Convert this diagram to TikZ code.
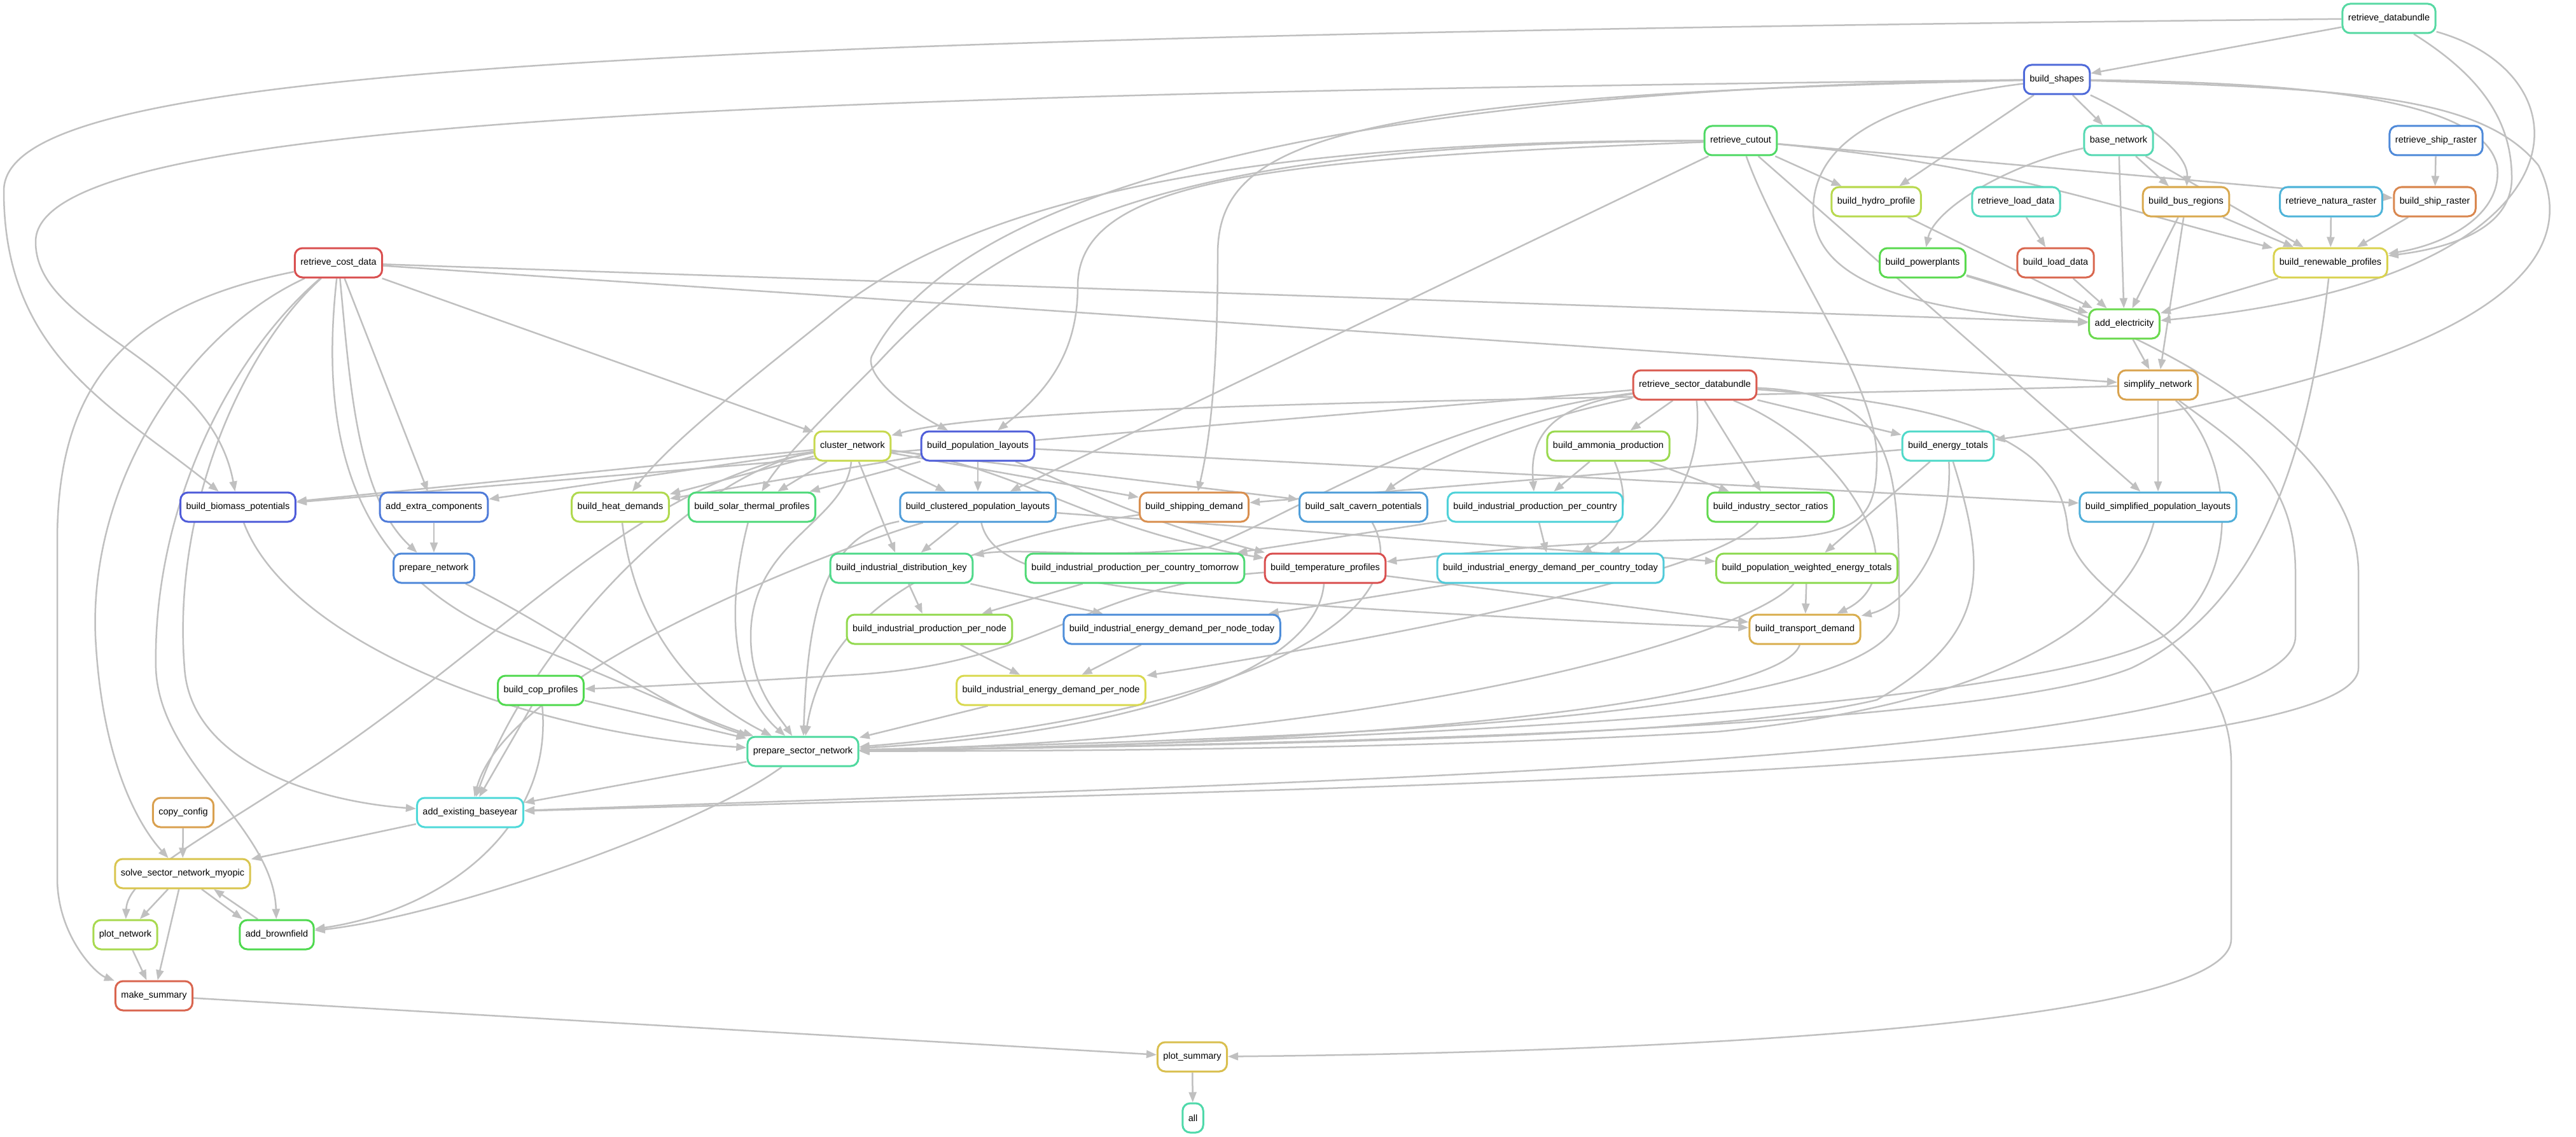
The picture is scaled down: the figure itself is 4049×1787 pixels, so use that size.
\documentclass[tikz,border=0pt]{standalone}
\usepackage{fontspec}
\setmainfont{Liberation Sans}
\usetikzlibrary{arrows.meta}
\pgfdeclarelayer{bg}
\pgfsetlayers{bg,main}
\definecolor{edgegray}{HTML}{C0C0C0}
\tikzset{
 nbox/.style={rectangle, rounded corners=12pt, line width=3pt, fill=white, minimum height=46pt, inner xsep=9pt, inner ysep=4pt, font=\fontsize{14.5}{17}\selectfont, text=black},
 edge/.style={draw=edgegray, line width=2.5pt, -{Triangle[length=16pt,width=12pt]}},
}
\newcommand{\mknode}[4]{\definecolor{col#1}{HTML}{#4}\node[nbox, draw=col#1] (#1) at (#2) {#3};}
\newcommand{\sedge}[2]{\draw[edge] (#1) -- (#2);}
\begin{document}
\begin{tikzpicture}[x=1pt,y=-1pt]
\useasboundingbox (0,0) rectangle (4049,1787);
\mknode{rdb}{3755,29}{retrieve\_databundle}{57D9A3}
\mknode{bs}{3233,125}{build\_shapes}{4F6AD9}
\mknode{rco}{2736,221}{retrieve\_cutout}{4FD965}
\mknode{bn}{3330,221}{base\_network}{57D9B3}
\mknode{rsr}{3829,221}{retrieve\_ship\_raster}{4F8AD9}
\mknode{bhp}{2949,317}{build\_hydro\_profile}{B8D94F}
\mknode{rld}{3169,317}{retrieve\_load\_data}{57D9C0}
\mknode{bbr}{3436,317}{build\_bus\_regions}{D9A94F}
\mknode{rnr}{3664,317}{retrieve\_natura\_raster}{4FB4D9}
\mknode{bsr}{3827,317}{build\_ship\_raster}{D9874F}
\mknode{rcd}{532,413}{retrieve\_cost\_data}{D94F4F}
\mknode{bpp}{3022,413}{build\_powerplants}{5AD94F}
\mknode{bld}{3231,413}{build\_load\_data}{D9674F}
\mknode{brp}{3663,413}{build\_renewable\_profiles}{D9D24F}
\mknode{ae}{3339,509}{add\_electricity}{6BD94F}
\mknode{rsd}{2664,605}{retrieve\_sector\_databundle}{D95A4F}
\mknode{sn}{3392,605}{simplify\_network}{D9A34F}
\mknode{cn}{1340,701}{cluster\_network}{C7D94F}
\mknode{bpl}{1537,701}{build\_population\_layouts}{4F5ED9}
\mknode{bap}{2528,701}{build\_ammonia\_production}{9AD94F}
\mknode{bet}{3062,701}{build\_energy\_totals}{4FD9C9}
\mknode{bio}{374,797}{build\_biomass\_potentials}{4F5CD9}
\mknode{aec}{682,797}{add\_extra\_components}{4F7BD9}
\mknode{bhd}{975,797}{build\_heat\_demands}{B0D94F}
\mknode{bstp}{1182,797}{build\_solar\_thermal\_profiles}{4FD97A}
\mknode{bcpl}{1537,797}{build\_clustered\_population\_layouts}{4F9CD9}
\mknode{bsd}{1877,797}{build\_shipping\_demand}{D98F4F}
\mknode{bscp}{2143,797}{build\_salt\_cavern\_potentials}{4F9ED9}
\mknode{bipc}{2413,797}{build\_industrial\_production\_per\_country}{4FD2D9}
\mknode{bisr}{2783,797}{build\_industry\_sector\_ratios}{62D94F}
\mknode{bspl}{3392,797}{build\_simplified\_population\_layouts}{4FAED9}
\mknode{pn}{682,893}{prepare\_network}{4F88D9}
\mknode{bidk}{1417,893}{build\_industrial\_distribution\_key}{4FD98A}
\mknode{bipct}{1784,893}{build\_industrial\_production\_per\_country\_tomorrow}{4FD975}
\mknode{btp}{2083,893}{build\_temperature\_profiles}{D94F4F}
\mknode{biedc}{2437,893}{build\_industrial\_energy\_demand\_per\_country\_today}{4FCAD9}
\mknode{bpwe}{2840,893}{build\_population\_weighted\_energy\_totals}{8CD94F}
\mknode{bipn}{1461,989}{build\_industrial\_production\_per\_node}{93D94F}
\mknode{biednt}{1842,989}{build\_industrial\_energy\_demand\_per\_node\_today}{4F8ED9}
\mknode{btd}{2837,989}{build\_transport\_demand}{D9AE4F}
\mknode{bcop}{850,1085}{build\_cop\_profiles}{50D94F}
\mknode{bied}{1652,1085}{build\_industrial\_energy\_demand\_per\_node}{D9D94F}
\mknode{psn}{1262,1181}{prepare\_sector\_network}{4FD99F}
\mknode{cc}{288,1277}{copy\_config}{D9A04F}
\mknode{aeb}{739,1277}{add\_existing\_baseyear}{4FD9D9}
\mknode{solve}{287,1373}{solve\_sector\_network\_myopic}{D9C54F}
\mknode{pnet}{197,1469}{plot\_network}{A8D94F}
\mknode{abf}{435,1469}{add\_brownfield}{4FD94F}
\mknode{ms}{242,1565}{make\_summary}{D9654F}
\mknode{ps}{1874,1661}{plot\_summary}{D9BF4F}
\mknode{all}{1875,1757}{all}{4FD9AA}
\begin{pgfonlayer}{bg}
\fill[white] (0,0) rectangle (4049,1787);
% retrieve_databundle
\sedge{rdb}{bs}
\draw[edge] (rdb) .. controls (800,60) and (6,120) .. (6,300) .. controls (6,560) and (180,640) .. (bio);
\draw[edge] (rdb) .. controls (3900,120) and (3948,190) .. (3948,280) .. controls (3948,360) and (3850,390) .. (brp);
\draw[edge] (rdb) .. controls (4080,120) and (4080,440) .. (ae);
% build_shapes
\sedge{bs}{bn}
\sedge{bs}{bhp}
\draw[edge] (bs) .. controls (3330,170) and (3440,230) .. (bbr);
\draw[edge] (bs) .. controls (3600,130) and (3900,150) .. (3925,260) .. controls (3935,340) and (3840,385) .. (brp);
\draw[edge] (bs) .. controls (2950,160) and (2850,230) .. (2850,330) .. controls (2850,440) and (3000,490) .. (ae);
\draw[edge] (bs) .. controls (3700,140) and (3900,150) .. (3990,260) .. controls (4060,400) and (3950,580) .. (bet);
\draw[edge] (bs) .. controls (1000,150) and (56,200) .. (56,380) .. controls (56,520) and (330,560) .. (bio);
\draw[edge] (bs) .. controls (2100,150) and (1914,220) .. (1914,400) .. controls (1914,600) and (1900,700) .. (bsd);
\draw[edge] (bs) .. controls (2100,140) and (1500,300) .. (1370,560) .. controls (1360,590) and (1420,640) .. (bpl);
% retrieve_cutout
\sedge{rco}{bhp}
\draw[edge] (rco) .. controls (3150,260) and (3300,320) .. (brp);
\sedge{rco}{bsr}
\draw[edge] (rco) .. controls (2000,250) and (1694,280) .. (1694,450) .. controls (1694,560) and (1640,620) .. (bpl);
\sedge{rco}{bcpl}
\draw[edge] (rco) .. controls (1900,220) and (1500,330) .. (1300,500) .. controls (1150,620) and (1050,700) .. (bhd);
\draw[edge] (rco) .. controls (1900,225) and (1600,330) .. (1380,570) .. controls (1300,650) and (1230,720) .. (bstp);
\draw[edge] (rco) .. controls (2800,400) and (2950,600) .. (2950,720) .. controls (2950,820) and (2920,845) .. (2750,847) .. controls (2450,850) and (2300,870) .. (btp);
\sedge{rco}{bspl}
% base network and electricity
\sedge{bn}{bbr}
\draw[edge] (bn) .. controls (3150,260) and (3040,330) .. (bpp);
\sedge{bn}{ae}
\sedge{bn}{brp}
\sedge{rsr}{bsr}
\sedge{rld}{bld}
\sedge{rnr}{brp}
\sedge{bsr}{brp}
\sedge{bhp}{ae}
\sedge{bbr}{ae}
\sedge{bbr}{brp}
\sedge{bbr}{sn}
\sedge{bpp}{ae}
\draw[edge] (bpp) .. controls (3400,520) and (3707,700) .. (3707,900) -- (3707,1050) .. controls (3707,1220) and (2000,1240) .. (aeb);
\sedge{bld}{ae}
\sedge{brp}{ae}
\draw[edge] (brp) .. controls (3630,700) and (3560,950) .. (3350,1050) .. controls (3100,1150) and (2000,1170) .. (psn);
\sedge{ae}{sn}
% retrieve_cost_data
\sedge{rcd}{ae}
\sedge{rcd}{sn}
\sedge{rcd}{cn}
\sedge{rcd}{aec}
\draw[edge] (rcd) .. controls (550,600) and (560,780) .. (pn);
\draw[edge] (rcd) .. controls (500,700) and (560,900) .. (800,1000) .. controls (1000,1080) and (1100,1130) .. (psn);
\draw[edge] (rcd) .. controls (380,550) and (270,800) .. (290,1050) .. controls (300,1200) and (500,1260) .. (aeb);
\draw[edge] (rcd) .. controls (360,560) and (240,800) .. (245,1050) .. controls (250,1200) and (430,1300) .. (abf);
\draw[edge] (rcd) .. controls (300,520) and (140,750) .. (150,1000) .. controls (160,1200) and (220,1300) .. (solve);
\draw[edge] (rcd) .. controls (200,480) and (90,600) .. (90,850) -- (90,1380) .. controls (90,1470) and (150,1530) .. (ms);
% simplify_network
\draw[edge] (sn) .. controls (2500,630) and (1600,630) .. (cn);
\sedge{sn}{bspl}
\draw[edge] (sn) .. controls (3500,700) and (3540,900) .. (3400,1000) .. controls (3200,1120) and (2000,1170) .. (psn);
\draw[edge] (sn) .. controls (3520,700) and (3608,750) .. (3608,900) -- (3608,1000) .. controls (3608,1200) and (2000,1230) .. (aeb);
% retrieve_sector_databundle
\sedge{rsd}{bio}
\sedge{rsd}{bap}
\sedge{rsd}{bet}
\draw[edge] (rsd) .. controls (2420,640) and (2405,700) .. (bipc);
\sedge{rsd}{bisr}
\draw[edge] (rsd) .. controls (2400,660) and (2250,720) .. (bscp);
\draw[edge] (rsd) .. controls (2250,660) and (2050,800) .. (1900,860) .. controls (1750,880) and (1600,860) .. (bidk);
\draw[edge] (rsd) .. controls (2680,750) and (2600,850) .. (biedc);
\draw[edge] (rsd) .. controls (2900,700) and (3020,900) .. (btd);
\draw[edge] (rsd) .. controls (2980,620) and (2985,720) .. (2985,960) .. controls (2985,1140) and (2000,1160) .. (psn);
\draw[edge] (rsd) .. controls (3150,640) and (3240,720) .. (3250,830) .. controls (3265,950) and (3507,1000) .. (3507,1200) -- (3507,1476) .. controls (3507,1620) and (2500,1655) .. (ps);
% cluster_network
\sedge{cn}{bio}
\sedge{cn}{aec}
\sedge{cn}{bhd}
\sedge{cn}{bstp}
\sedge{cn}{bcpl}
\sedge{cn}{bsd}
\sedge{cn}{bscp}
\sedge{cn}{bidk}
\draw[edge] (cn) .. controls (1600,730) and (1700,830) .. (btp);
\draw[edge] (cn) .. controls (1330,820) and (1180,850) .. (1180,1000) .. controls (1180,1080) and (1220,1120) .. (psn);
\draw[edge] (cn) .. controls (1100,740) and (840,1000) .. (aeb);
\draw[edge] (cn) .. controls (1000,760) and (800,1000) .. (500,1200) .. controls (300,1330) and (200,1380) .. (pnet);
% build_population_layouts
\sedge{bpl}{bhd}
\sedge{bpl}{bstp}
\sedge{bpl}{bcpl}
\sedge{bpl}{bspl}
\draw[edge] (bpl) .. controls (1680,760) and (1800,820) .. (btp);
% ammonia, energy totals
\sedge{bap}{bipc}
\draw[edge] (bap) .. controls (2560,780) and (2560,830) .. (biedc);
\sedge{bap}{bisr}
\sedge{bet}{bsd}
\sedge{bet}{bpwe}
\draw[edge] (bet) .. controls (3070,850) and (3000,950) .. (btd);
\draw[edge] (bet) .. controls (3125,900) and (3125,1000) .. (2950,1100) .. controls (2700,1160) and (2000,1170) .. (psn);
% row 8
\draw[edge] (bio) .. controls (450,1000) and (800,1150) .. (psn);
\sedge{aec}{pn}
\draw[edge] (bhd) .. controls (1000,1000) and (1100,1100) .. (psn);
\draw[edge] (bstp) .. controls (1130,1000) and (1170,1100) .. (psn);
\sedge{bcpl}{bidk}
\sedge{bcpl}{bpwe}
\draw[edge] (bcpl) .. controls (1560,900) and (1700,930) .. (2200,960) .. controls (2500,978) and (2700,985) .. (btd);
\draw[edge] (bcpl) .. controls (1300,840) and (1270,950) .. (psn);
\draw[edge] (bcpl) .. controls (1350,850) and (800,1050) .. (aeb);
\draw[edge] (bsd) .. controls (1500,850) and (1300,950) .. (psn);
\draw[edge] (bscp) .. controls (2230,950) and (2000,1120) .. (psn);
\sedge{bipc}{bipct}
\sedge{bipc}{biedc}
\draw[edge] (bisr) .. controls (2700,900) and (2200,1000) .. (bied);
\draw[edge] (bspl) .. controls (3350,950) and (3200,1100) .. (2700,1150) .. controls (2200,1180) and (1600,1180) .. (psn);
% row 9
\draw[edge] (pn) .. controls (900,1000) and (1050,1120) .. (psn);
\sedge{bidk}{bipn}
\sedge{bidk}{biednt}
\sedge{bipct}{bipn}
\draw[edge] (btp) .. controls (1700,920) and (1650,1040) .. (1350,1060) .. controls (1150,1072) and (1000,1080) .. (bcop);
\sedge{btp}{btd}
\draw[edge] (btp) .. controls (2070,1050) and (1800,1150) .. (psn);
\sedge{biedc}{biednt}
\sedge{bpwe}{btd}
\draw[edge] (bpwe) .. controls (2750,1000) and (2200,1160) .. (psn);
% row 10-11
\sedge{bipn}{bied}
\sedge{biednt}{bied}
\draw[edge] (btd) .. controls (2800,1100) and (2200,1170) .. (psn);
\sedge{bcop}{psn}
\sedge{bcop}{aeb}
\draw[edge] (bcop) .. controls (870,1300) and (700,1430) .. (abf);
\sedge{bied}{psn}
% lower part
\sedge{psn}{aeb}
\draw[edge] (psn) .. controls (1100,1300) and (700,1440) .. (abf);
\sedge{cc}{solve}
\sedge{aeb}{solve}
\sedge{solve}{pnet}
\sedge{solve}{ms}
\draw[edge] ([xshift=30pt]solve.south) -- ([xshift=-54pt]abf.north);
\draw[edge] ([xshift=-30pt]abf.north) -- ([xshift=49pt]solve.south);
\sedge{pnet}{ms}
\sedge{ms}{ps}
\sedge{ps}{all}
\end{pgfonlayer}
\end{tikzpicture}
\end{document}
